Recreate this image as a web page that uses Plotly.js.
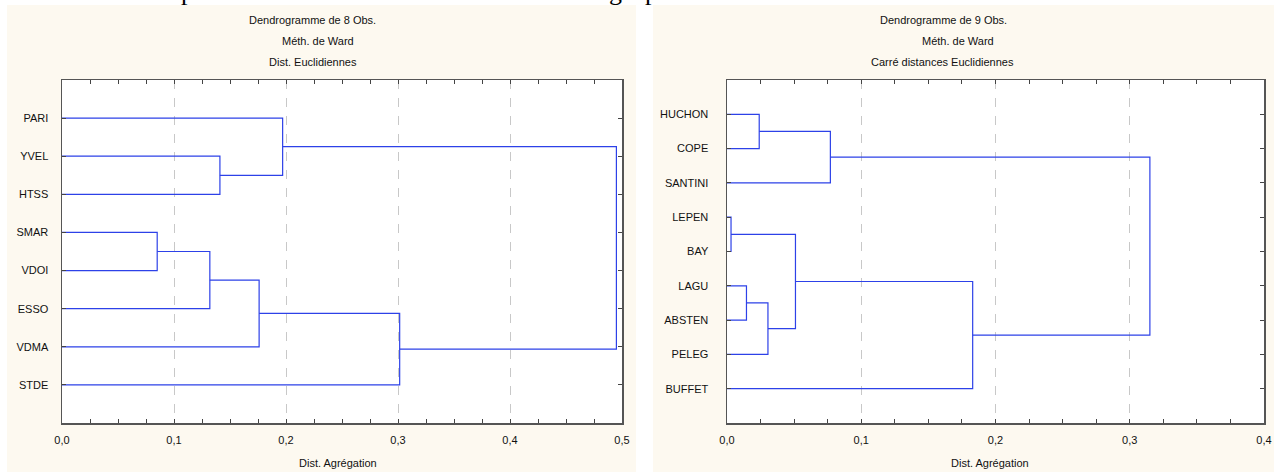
<!DOCTYPE html>
<html>
<head>
<meta charset="utf-8">
<script src="https://cdn.plot.ly/plotly-3.0.1.min.js"></script>
<style>html,body{margin:0;padding:0;background:#fff;}#chart{width:1274px;height:472px;}</style>
</head>
<body>
<div id="chart"></div>
<script>
// ---------- DATA ----------
// Left dendrogram (8 obs., Ward, Euclidean distances)
const leftLabels = ['PARI', 'YVEL', 'HTSS', 'SMAR', 'VDOI', 'ESSO', 'VDMA', 'STDE'];
// merge i joins clusters leftMergeA[i] and leftMergeB[i] (leaves 0..7, merges 8..)
const leftMergeA = [3, 8, 9, 1, 0, 10, 12];
const leftMergeB = [4, 5, 6, 2, 11, 7, 13];
const leftHeights = [0.085, 0.132, 0.176, 0.141, 0.197, 0.3015, 0.495];
const leftTitles = ['Dendrogramme de 8 Obs.', 'Méth. de Ward', 'Dist. Euclidiennes'];
const leftXTicks = [0, 0.1, 0.2, 0.3, 0.4, 0.5];

// Right dendrogram (9 obs., Ward, squared Euclidean distances)
const rightLabels = ['HUCHON', 'COPE', 'SANTINI', 'LEPEN', 'BAY', 'LAGU', 'ABSTEN', 'PELEG', 'BUFFET'];
const rightMergeA = [0, 9, 3, 5, 12, 11, 14, 10];
const rightMergeB = [1, 2, 4, 6, 7, 13, 8, 15];
const rightHeights = [0.024, 0.077, 0.003, 0.0145, 0.0305, 0.051, 0.183, 0.315];
const rightTitles = ['Dendrogramme de 9 Obs.', 'Méth. de Ward', 'Carré distances Euclidiennes'];
const rightXTicks = [0, 0.1, 0.2, 0.3, 0.4];

const xAxisTitle = 'Dist. Agrégation';
const topFragments = ['p', 'g', 'p'];

// ---------- BUILD ----------
function dendroPath(labels, A, B, H) {
  const n = labels.length;
  const pos = [], hgt = [];
  for (let i = 0; i < n; i++) { pos.push(i + 1); hgt.push(0); }
  const xs = [], ys = [];
  for (let k = 0; k < A.length; k++) {
    const a = A[k], b = B[k], h = H[k];
    xs.push(hgt[a], h, h, hgt[b], null);
    ys.push(pos[a], pos[a], pos[b], pos[b], null);
    pos.push((pos[a] + pos[b]) / 2);
    hgt.push(h);
  }
  return {xs, ys};
}

const W = 1274, Hh = 472;
const px = v => v / W;
const py = v => 1 - v / Hh;

const blue = 'rgb(45,65,232)';
const L = dendroPath(leftLabels, leftMergeA, leftMergeB, leftHeights);
const R = dendroPath(rightLabels, rightMergeA, rightMergeB, rightHeights);

const traces = [
  {x: L.xs, y: L.ys, xaxis: 'x', yaxis: 'y', mode: 'lines', line: {color: blue, width: 1.2}, hoverinfo: 'skip', showlegend: false},
  {x: R.xs, y: R.ys, xaxis: 'x2', yaxis: 'y2', mode: 'lines', line: {color: blue, width: 1.2}, hoverinfo: 'skip', showlegend: false}
];

const font = {family: 'Liberation Sans, Arial, sans-serif', size: 11, color: '#111'};

function xax(domain, range, tickvals) {
  return {
    domain: domain, range: range, tickvals: tickvals, tickformat: '.1f',
    ticks: 'inside', ticklen: 4, tickcolor: '#444', tickwidth: 1,
    minor: {dtick: 0.025, tick0: 0, ticks: 'inside', ticklen: 4, tickcolor: '#444', showgrid: false},
    showline: true, linecolor: '#555', linewidth: 1.5, mirror: 'allticks',
    showgrid: true, gridcolor: '#c8c8c8', griddash: 'dash', gridwidth: 1,
    zeroline: false, tickfont: font, ticklabelstandoff: 6, fixedrange: true
  };
}
function yax(domain, n, labels, standoff, anchor) {
  const vals = labels.map((_, i) => i + 1);
  return {
    domain: domain, range: [n + 1, 0], tickvals: vals, ticktext: labels,
    ticks: 'inside', ticklen: 4, tickcolor: '#444', tickwidth: 1,
    showline: true, linecolor: '#555', linewidth: 1.5, mirror: 'ticks',
    showgrid: false, zeroline: false, tickfont: font, ticklabelstandoff: standoff,
    anchor: anchor, fixedrange: true
  };
}

const yDom = [py(423), py(80)];
const layout = {
  width: W, height: Hh, margin: {l: 0, r: 0, t: 0, b: 0},
  paper_bgcolor: '#fdf9f0', plot_bgcolor: '#ffffff',
  separators: ', ', showlegend: false,
  font: font,
  xaxis: Object.assign(xax([px(62), px(622)], [0, 0.5], leftXTicks), {anchor: 'y'}),
  yaxis: yax(yDom, leftLabels.length, leftLabels, 10, 'x'),
  xaxis2: Object.assign(xax([px(727), px(1264)], [0, 0.4], rightXTicks), {anchor: 'y2'}),
  yaxis2: yax(yDom, rightLabels.length, rightLabels, 15, 'x2'),
  shapes: [
    {type: 'rect', xref: 'paper', yref: 'paper', x0: 0, x1: px(7), y0: 0, y1: 1, fillcolor: '#fff', line: {width: 0}, layer: 'below'},
    {type: 'rect', xref: 'paper', yref: 'paper', x0: px(636), x1: px(653), y0: 0, y1: 1, fillcolor: '#fff', line: {width: 0}, layer: 'below'},
    {type: 'rect', xref: 'paper', yref: 'paper', x0: 0, x1: 1, y0: py(5), y1: 1, fillcolor: '#fff', line: {width: 0}, layer: 'below'}
  ],
  annotations: []
};

const titleY = [20, 41, 62];
const leftTX = [312, 318, 313];
const rightTX = [943, 958, 942];
leftTitles.forEach((t, i) => layout.annotations.push({text: t, xref: 'paper', yref: 'paper', x: px(leftTX[i]), y: py(titleY[i]), xanchor: 'center', yanchor: 'middle', showarrow: false, font: font}));
rightTitles.forEach((t, i) => layout.annotations.push({text: t, xref: 'paper', yref: 'paper', x: px(rightTX[i]), y: py(titleY[i]), xanchor: 'center', yanchor: 'middle', showarrow: false, font: font}));
[338, 990].forEach(cx => layout.annotations.push({text: xAxisTitle, xref: 'paper', yref: 'paper', x: px(cx), y: py(463), xanchor: 'center', yanchor: 'middle', showarrow: false, font: font}));
const fragX = [187, 615, 651];
topFragments.forEach((t, i) => layout.annotations.push({text: t, xref: 'paper', yref: 'paper', x: px(fragX[i]), y: py(7), xanchor: 'center', yanchor: 'bottom', showarrow: false, borderpad: 0, font: {family: 'Liberation Serif, Times New Roman, serif', size: 26, color: '#000'}}));

Plotly.newPlot('chart', traces, layout, {staticPlot: true, displayModeBar: false});
</script>
</body>
</html>
